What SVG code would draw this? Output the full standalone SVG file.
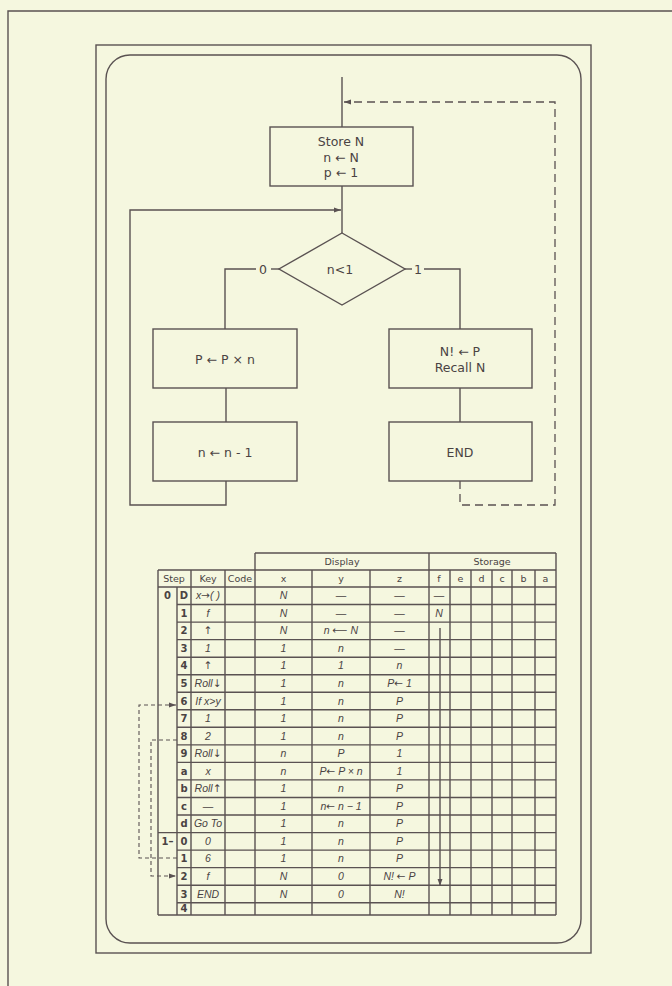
<svg xmlns="http://www.w3.org/2000/svg" width="672" height="986" viewBox="0 0 672 986">
<defs>
<style>
.ln{fill:none;stroke:#5a5252;stroke-width:1.4}
.tl{fill:none;stroke:#5a5252;stroke-width:1.4}
.ds{fill:none;stroke:#5a5252;stroke-width:1.3;stroke-dasharray:8 5}
.dt{fill:none;stroke:#5a5252;stroke-width:1.1;stroke-dasharray:4 3}
.box{fill:none;stroke:#5a5252;stroke-width:1.4}
.ft{font-family:"DejaVu Sans","Liberation Sans",sans-serif;font-size:12.5px;fill:#4a4343;text-anchor:middle}
.th{font-family:"DejaVu Sans","Liberation Sans",sans-serif;font-size:9.5px;fill:#4a4343;text-anchor:middle}
.tn{font-family:"DejaVu Sans","Liberation Sans",sans-serif;font-size:10px;font-weight:bold;fill:#4a4343;text-anchor:middle}
.hw{font-family:"Liberation Sans",sans-serif;font-size:10.5px;font-style:italic;fill:#4a4343;text-anchor:middle}
.ar{font-family:"DejaVu Sans",sans-serif;font-style:normal}
</style>
<marker id="ah" viewBox="0 0 10 10" refX="10" refY="5" markerWidth="7" markerHeight="7" orient="auto" markerUnits="userSpaceOnUse">
<path d="M0,1.5 L10,5 L0,8.5 z" fill="#5a5252"/>
</marker>
</defs>
<rect x="0" y="0" width="672" height="986" fill="#f5f7df"/>
<g id="page-border">
<path class="tl" d="M8,986 V11 H672"/>
<rect class="box" x="96" y="45" width="495" height="908"/>
<rect class="box" x="106" y="55" width="475" height="888" rx="24" ry="24"/>
</g>

<g id="connectors">
<line class="ln" x1="342" y1="77" x2="342" y2="127"/>
<path class="ds" d="M460,481 V505 H555 V102 H344" marker-end="url(#ah)"/>
<line class="ln" x1="342" y1="186" x2="342" y2="233"/>
<path class="ln" d="M226,481 V505 H130 V210 H341" marker-end="url(#ah)"/>
<path class="ln" d="M279,269 H271"/>
<path class="ln" d="M256,269 H225 V329"/>
<path class="ln" d="M405,269 H412"/>
<path class="ln" d="M424,269 H460 V329"/>
<line class="ln" x1="226" y1="388" x2="226" y2="422"/>
<line class="ln" x1="460" y1="388" x2="460" y2="422"/>
<text class="ft" x="263" y="273.5">0</text>
<text class="ft" x="418" y="273.5">1</text>
</g>

<g id="store">
<rect class="box" x="270" y="127" width="143" height="59"/>
<text class="ft" x="341" y="146">Store N</text>
<text class="ft" x="341" y="162">n ← N</text>
<text class="ft" x="341" y="177">p ← 1</text>
</g>
<g id="decision">
<polygon class="box" points="342,233 405,269 342,305 279,269"/>
<text class="ft" x="340" y="273.5">n&lt;1</text>
</g>
<g id="multiply">
<rect class="box" x="153" y="329" width="144" height="59"/>
<text class="ft" x="225" y="363.5">P ← P × n</text>
</g>
<g id="decrement">
<rect class="box" x="153" y="422" width="144" height="59"/>
<text class="ft" x="225" y="456.5">n ← n - 1</text>
</g>
<g id="result">
<rect class="box" x="389" y="329" width="143" height="59"/>
<text class="ft" x="460" y="356">N! ← P</text>
<text class="ft" x="460" y="372">Recall N</text>
</g>
<g id="end">
<rect class="box" x="389" y="422" width="143" height="59"/>
<text class="ft" x="460" y="456.5">END</text>
</g>

<g id="table">
<path class="tl" d="M255,553 H556 M158,570 H556 M158,587 H556"/>
<path class="tl" d="M177,604.5 H556 M177,622.1 H556 M177,639.6 H556 M177,657.2 H556 M177,674.7 H556 M177,692.2 H556 M177,709.8 H556 M177,727.3 H556 M177,744.9 H556 M177,762.4 H556 M177,779.9 H556 M177,797.5 H556 M177,815 H556 M158,832.6 H556 M177,850.1 H556 M177,867.6 H556 M177,885.2 H556 M177,902.7 H556 M158,915 H556"/>
<path class="tl" d="M158,570 V915 M177,587 V915 M191,570 V915 M225,570 V915 M255,553 V915 M312,570 V915 M370,570 V915 M429,553 V915 M450,570 V915 M471,570 V915 M492,570 V915 M512,570 V915 M535,570 V915 M556,553 V915"/>
<text class="th" x="342" y="565">Display</text>
<text class="th" x="492" y="565">Storage</text>
<text class="th" x="174" y="582">Step</text>
<text class="th" x="208" y="582">Key</text>
<text class="th" x="240" y="582">Code</text>
<text class="th" x="283.5" y="582">x</text>
<text class="th" x="341" y="582">y</text>
<text class="th" x="399.5" y="582">z</text>
<text class="th" x="439" y="582">f</text>
<text class="th" x="460.5" y="582">e</text>
<text class="th" x="481.5" y="582">d</text>
<text class="th" x="502" y="582">c</text>
<text class="th" x="523.5" y="582">b</text>
<text class="th" x="545.5" y="582">a</text>
<text class="tn" x="167.5" y="599.3">0</text>
<text class="tn" x="167.5" y="844.8">1–</text>
<text class="tn" x="184" y="599.3">D</text>
<text class="tn" x="184" y="616.8">1</text>
<text class="tn" x="184" y="634.4">2</text>
<text class="tn" x="184" y="651.9">3</text>
<text class="tn" x="184" y="669.4">4</text>
<text class="tn" x="184" y="687">5</text>
<text class="tn" x="184" y="704.5">6</text>
<text class="tn" x="184" y="722.1">7</text>
<text class="tn" x="184" y="739.6">8</text>
<text class="tn" x="184" y="757.1">9</text>
<text class="tn" x="184" y="774.7">a</text>
<text class="tn" x="184" y="792.2">b</text>
<text class="tn" x="184" y="809.8">c</text>
<text class="tn" x="184" y="827.3">d</text>
<text class="tn" x="184" y="844.8">0</text>
<text class="tn" x="184" y="862.4">1</text>
<text class="tn" x="184" y="879.9">2</text>
<text class="tn" x="184" y="897.5">3</text>
<text class="tn" x="184" y="912.4">4</text>
<text class="hw" x="208" y="599.3" font-size="9.5">x<tspan class="ar">→</tspan>( )</text>
<text class="hw" x="208" y="616.8">f</text>
<text class="hw ar" x="208" y="634.4">↑</text>
<text class="hw" x="208" y="651.9">1</text>
<text class="hw ar" x="208" y="669.4">↑</text>
<text class="hw" x="208" y="687" font-size="9">Roll<tspan class="ar">↓</tspan></text>
<text class="hw" x="208" y="704.5" font-size="9">If x&gt;y</text>
<text class="hw" x="208" y="722.1">1</text>
<text class="hw" x="208" y="739.6">2</text>
<text class="hw" x="208" y="757.1" font-size="9">Roll<tspan class="ar">↓</tspan></text>
<text class="hw" x="208" y="774.7">x</text>
<text class="hw" x="208" y="792.2" font-size="9">Roll<tspan class="ar">↑</tspan></text>
<text class="hw" x="208" y="809.8">—</text>
<text class="hw" x="208" y="827.3" font-size="9">Go To</text>
<text class="hw" x="208" y="844.8">0</text>
<text class="hw" x="208" y="862.4">6</text>
<text class="hw" x="208" y="879.9">f</text>
<text class="hw" x="208" y="897.5" font-size="9">END</text>
<text class="hw" x="283.5" y="599.3">N</text>
<text class="hw" x="283.5" y="616.8">N</text>
<text class="hw" x="283.5" y="634.4">N</text>
<text class="hw" x="283.5" y="651.9">1</text>
<text class="hw" x="283.5" y="669.4">1</text>
<text class="hw" x="283.5" y="687">1</text>
<text class="hw" x="283.5" y="704.5">1</text>
<text class="hw" x="283.5" y="722.1">1</text>
<text class="hw" x="283.5" y="739.6">1</text>
<text class="hw" x="283.5" y="757.1">n</text>
<text class="hw" x="283.5" y="774.7">n</text>
<text class="hw" x="283.5" y="792.2">1</text>
<text class="hw" x="283.5" y="809.8">1</text>
<text class="hw" x="283.5" y="827.3">1</text>
<text class="hw" x="283.5" y="844.8">1</text>
<text class="hw" x="283.5" y="862.4">1</text>
<text class="hw" x="283.5" y="879.9">N</text>
<text class="hw" x="283.5" y="897.5">N</text>
<text class="hw" x="341" y="599.3">—</text>
<text class="hw" x="341" y="616.8">—</text>
<text class="hw" x="341" y="634.4">n <tspan class="ar">⟵</tspan> N</text>
<text class="hw" x="341" y="651.9">n</text>
<text class="hw" x="341" y="669.4">1</text>
<text class="hw" x="341" y="687">n</text>
<text class="hw" x="341" y="704.5">n</text>
<text class="hw" x="341" y="722.1">n</text>
<text class="hw" x="341" y="739.6">n</text>
<text class="hw" x="341" y="757.1">P</text>
<text class="hw" x="341" y="774.7">P<tspan class="ar">←</tspan> P × n</text>
<text class="hw" x="341" y="792.2">n</text>
<text class="hw" x="341" y="809.8">n<tspan class="ar">←</tspan> n − 1</text>
<text class="hw" x="341" y="827.3">n</text>
<text class="hw" x="341" y="844.8">n</text>
<text class="hw" x="341" y="862.4">n</text>
<text class="hw" x="341" y="879.9">0</text>
<text class="hw" x="341" y="897.5">0</text>
<text class="hw" x="399.5" y="599.3">—</text>
<text class="hw" x="399.5" y="616.8">—</text>
<text class="hw" x="399.5" y="634.4">—</text>
<text class="hw" x="399.5" y="651.9">—</text>
<text class="hw" x="399.5" y="669.4">n</text>
<text class="hw" x="399.5" y="687">P<tspan class="ar">←</tspan> 1</text>
<text class="hw" x="399.5" y="704.5">P</text>
<text class="hw" x="399.5" y="722.1">P</text>
<text class="hw" x="399.5" y="739.6">P</text>
<text class="hw" x="399.5" y="757.1">1</text>
<text class="hw" x="399.5" y="774.7">1</text>
<text class="hw" x="399.5" y="792.2">P</text>
<text class="hw" x="399.5" y="809.8">P</text>
<text class="hw" x="399.5" y="827.3">P</text>
<text class="hw" x="399.5" y="844.8">P</text>
<text class="hw" x="399.5" y="862.4">P</text>
<text class="hw" x="399.5" y="879.9">N! <tspan class="ar">←</tspan> P</text>
<text class="hw" x="399.5" y="897.5">N!</text>
<text class="hw" x="439" y="599.3">—</text>
<text class="hw" x="439" y="616.8">N</text>
</g>

<g id="table-connectors">
<path class="tl" d="M440,628 V886" marker-end="url(#ah)"/>
<path class="dt" d="M177,858 H139 V705 H176" marker-end="url(#ah)"/>
<path class="dt" d="M177,740 H151 V876 H176" marker-end="url(#ah)"/>
</g>
</svg>
